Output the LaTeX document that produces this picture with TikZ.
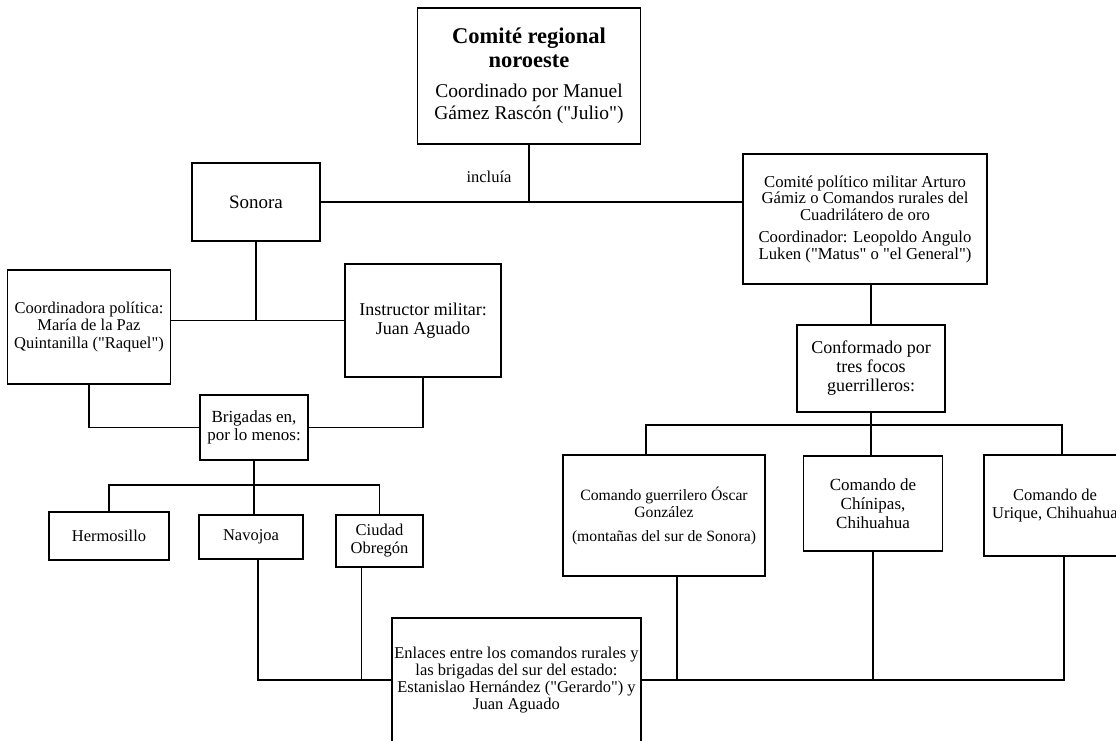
\documentclass[tikz,border=0pt]{standalone}
\usepackage{fontspec}
\setmainfont{Liberation Serif}[Ligatures=TeXOff]
\usetikzlibrary{positioning, calc}
\newcommand{\ttl}[1]{{\fontsize{22.5}{24.5}\selectfont\bfseries #1}}
\tikzset{
  box/.style={draw, line width=1.8pt, align=center, inner sep=2pt, font=\fontsize{16.5}{17.5}\selectfont},
  big/.style={font=\fontsize{18}{19}\selectfont},
  link/.style={line width=1.8pt},
  lbl/.style={inner sep=0pt, font=\fontsize{16.5}{17.5}\selectfont}
}

\begin{document}
\begin{tikzpicture}[x=1pt, y=-1pt]
  \useasboundingbox (0,0) rectangle (1116,740);
  \clip (0,0) rectangle (1116,740);

  % top level
  \node[box, minimum width=223pt, minimum height=136pt, font=\fontsize{19.5}{22}\selectfont] (comite) at (529,76) {\ttl{Comité regional}\\[2pt] \ttl{noroeste}\\[8pt] Coordinado por Manuel\\ Gámez Rascón ("Julio")};
  \node[lbl] (incl) at (489,177) {incluía};
  \node[box, minimum width=128pt, minimum height=78pt, font=\fontsize{19}{20}\selectfont] (sonora) at (256,202) {Sonora};
  \node[box, minimum width=244pt, minimum height=130pt, font=\fontsize{16.7}{16.5}\selectfont] (politico) at (865,219) {Comité político militar Arturo\\ Gámiz o Comandos rurales del\\ Cuadrilátero de oro\\[6pt] Coordinador: Leopoldo Angulo\\ Luken ("Matus" o "el General")};

  % Sonora
  \node[box, minimum width=163pt, minimum height=114pt] (coord) at (89,327) {Coordinadora política:\\ María de la Paz\\ Quintanilla ("Raquel")};
  \node[box, big, minimum width=156pt, minimum height=113pt] (instr) at (423,320.5) {Instructor militar:\\ Juan Aguado};
  \node[box, minimum width=108pt, minimum height=65pt, font=\fontsize{17}{18}\selectfont] (brig) at (254,427.5) {Brigadas en,\\ por lo menos:};
  \node[box, minimum width=120pt, minimum height=48pt] (herm) at (109,536) {Hermosillo};
  \node[box, minimum width=104pt, minimum height=44pt] (nav) at (251,537) {Navojoa};
  \node[box, minimum width=87pt, minimum height=52pt, font=\fontsize{16.5}{18}\selectfont] (obre) at (379.5,541) {Ciudad\\ Obregón};
  \node[box, minimum width=249pt, minimum height=124pt, font=\fontsize{16.5}{17}\selectfont] (enl) at (516.5,680) {Enlaces entre los comandos rurales y\\ las brigadas del sur del estado:\\ Estanislao Hernández ("Gerardo") y\\ Juan Aguado};

  % comandos rurales
  \node[box, big, minimum width=148pt, minimum height=87pt] (conf) at (871,368.5) {Conformado por\\ tres focos\\ guerrilleros:};
  \node[box, minimum width=202pt, minimum height=121pt, font=\fontsize{15.7}{17}\selectfont] (oscar) at (664,515.5) {Comando guerrilero Óscar\\ González\\[7pt] (montañas del sur de Sonora)};
  \node[box, minimum width=139pt, minimum height=95pt, font=\fontsize{17}{19}\selectfont] (chin) at (873,503.5) {Comando de\\ Chínipas,\\ Chihuahua};
  \node[box, minimum width=142pt, minimum height=101pt] (uri) at (1055,505.5) {Comando de\\ Urique, Chihuahua};

  \coordinate (bj) at (254,485);
  \coordinate (cj) at (871,425);
  \coordinate (navfoot) at ([xshift=7pt]nav.south);
  \coordinate (obrefoot) at ([xshift=-18pt]obre.south);
  \coordinate (oschead) at ([xshift=-18pt]oscar.north);
  \coordinate (oscfoot) at ([xshift=13pt]oscar.south);
  \coordinate (urihead) at ([xshift=7pt]uri.north);
  \coordinate (urifoot) at ([xshift=9pt]uri.south);

  \draw[link] (comite.south) -- (comite.south |- sonora.east);
  \draw[link] (sonora.east) -- (sonora.east -| politico.west);
  \draw[link] (sonora.south) -- (sonora.south |- instr.west);
  \draw[link] (coord.east |- instr.west) -- (instr.west);
  \draw[link] (coord.south) |- (brig.west);
  \draw[link] (instr.south) |- (brig.east);
  \draw[link] (brig.south) -- (bj);
  \draw[link] (herm.north) |- (bj) -| (obre.north);
  \draw[link] (bj) -- (bj |- nav.north);
  \draw[link] (navfoot) |- (enl.west);
  \draw[link] (obrefoot) -- (obrefoot |- enl.west);
  \draw[link] (politico.south -| conf.north) -- (conf.north);
  \draw[link] (conf.south) -- (cj);
  \draw[link] (oschead) |- (cj) -| (urihead);
  \draw[link] (cj) -- (cj |- chin.north);
  \draw[link] (enl.east) -| (urifoot);
  \draw[link] (oscfoot) -- (oscfoot |- enl.east);
  \draw[link] (chin.south) -- (chin.south |- enl.east);
\end{tikzpicture}
\end{document}
